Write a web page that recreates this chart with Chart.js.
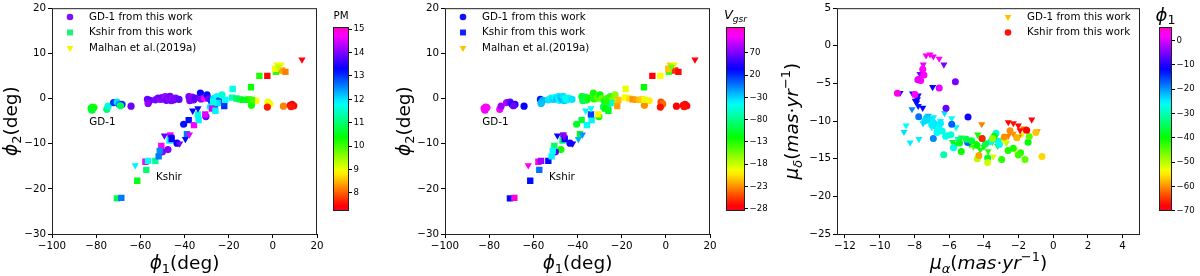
<!DOCTYPE html>
<html>
<head>
<meta charset="utf-8">
<script src="https://cdn.jsdelivr.net/npm/chart.js@4.4.1/dist/chart.umd.min.js"></script>
<style>
  body { margin: 0; background: #fff; width: 1200px; height: 276px; overflow: hidden; position: relative; }
  canvas { position: absolute; top: 0; }
</style>
</head>
<body>
<canvas id="p1" width="330" height="276" style="left:0px"></canvas>
<canvas id="c1" width="70" height="276" style="left:323px"></canvas>
<canvas id="p2" width="330" height="276" style="left:393px"></canvas>
<canvas id="c2" width="73" height="276" style="left:716px"></canvas>
<canvas id="p3" width="387" height="276" style="left:768px"></canvas>
<canvas id="c3" width="51" height="276" style="left:1149px"></canvas>
<script>
// GD-1 / Kshir in stream coords, coloured by PM (left) and Vgsr (middle)

// phi1, phi2, PM, Vgsr
const gd1Stars = [
  [-82.3, -2.2, 10.4, 112], [-81.6, -1.9, 10.5, 118], [-81.0, -2.0, 10.3, 110], [-81.9, -2.6, 10.6, 105],
  [-75.2, -2.4, 11.0, 108], [-74.6, -1.7, 11.6, 80], [-72.1, -0.9, 13.0, 85], [-70.5, -0.8, 12.0, 60],
  [-69.6, -1.3, 12.5, 40], [-68.3, -1.3, 13.0, 45], [-69.0, -1.6, 10.9, 65], [-64.2, -1.7, 13.9, 35],
  [-56.8, -0.2, 13.9, 25], [-56.2, -0.8, 14.0, -15], [-55.7, -0.4, 13.8, -20], [-56.5, -1.1, 14.1, -25],
  [-53.2, -0.3, 14.0, -35], [-52.0, 0.1, 13.9, -40], [-51.0, -0.2, 14.1, -30], [-50.2, 0.2, 13.9, -45],
  [-49.5, -0.1, 14.0, -25], [-48.8, 0.4, 14.2, -38], [-48.2, -0.4, 13.8, -42], [-47.6, 0.3, 14.0, -30],
  [-47.0, -0.2, 14.1, -20], [-46.5, 0.5, 13.9, -35], [-46.0, -0.5, 14.0, -28], [-45.4, 0.0, 14.2, -45],
  [-44.8, -0.3, 13.9, -40], [-44.0, 0.1, 14.0, -50], [-42.5, -0.2, 13.8, -35],
  [-38.0, 0.4, 14.0, -110], [-37.2, -0.1, 13.9, -120], [-36.5, 0.3, 14.1, -100], [-35.8, -0.3, 13.9, -115],
  [-37.6, -0.5, 14.0, -95], [-35.2, 0.1, 13.8, -125],
  [-32.8, 1.2, 13.3, -125], [-32.5, -0.1, 14.0, -130], [-30.9, 0.1, 14.7, -145], [-29.8, 0.8, 13.2, -120],
  [-29.1, 0.0, 13.9, -150], [-27.8, -0.6, 13.0, -100], [-26.8, 0.0, 12.0, -140], [-25.3, 0.4, 11.8, -135],
  [-24.5, -0.5, 12.8, -160], [-23.0, 0.8, 11.6, -160], [-26.3, -1.5, 12.9, -95], [-28.3, -1.9, 11.9, -85],
  [-30.3, -4.0, 13.9, -120], [-40.4, -5.7, 13.2, -110], [-43.4, -9.9, 13.3, 40], [-47.5, -11.3, 14.0, -125],
  [-50.0, -11.8, 14.0, 60],
  [-7.6, -0.5, 8.9, -200], [-9.7, -1.5, 10.3, -230], [-2.2, -0.8, 9.0, -250], [-1.4, -1.2, 9.0, -240],
  [-2.5, -1.9, 7.6, -268], [4.8, -1.7, 8.2, -272], [7.9, -1.5, 7.5, -275], [8.7, -1.3, 7.4, -270],
  [9.5, -1.6, 7.5, -278], [8.3, -1.8, 7.6, -268]
];

const kshirStars = [
  [-70.6, -22.1, 10.8, 30], [-68.6, -22.0, 12.6, 120], [-61.4, -18.2, 10.5, 30], [-57.3, -15.8, 11.0, 0],
  [-57.7, -14.0, 14.7, 115], [-56.5, -13.8, 11.8, 80], [-53.2, -13.8, 11.2, 30], [-51.7, -12.8, 12.6, -40],
  [-50.5, -10.5, 14.7, -90], [-51.2, -11.6, 12.5, -45], [-46.4, -8.2, 14.7, 75], [-46.8, -9.3, 11.8, -85],
  [-45.8, -9.0, 13.3, 35], [-38.9, -7.9, 12.6, -110], [-38.1, -4.8, 13.2, -105], [-35.7, -5.9, 14.7, -45],
  [-33.6, -4.8, 11.9, -40], [-33.9, -3.5, 11.7, 15], [-30.6, -3.5, 14.6, -200], [-27.5, -2.2, 14.5, -120],
  [-26.0, -2.7, 11.9, -110], [-22.0, -1.7, 13.0, -225], [-21.5, -0.3, 11.8, -215], [-25.0, -1.0, 12.0, -60],
  [-27.0, -0.8, 11.7, -130],
  [-18.2, 2.1, 11.7, -190], [-18.5, 0.2, 11.5, -195], [-16.5, 0.0, 11.0, -205], [-15.0, -0.2, 10.8, -230],
  [-13.5, -0.3, 10.5, -225], [-12.0, -0.3, 10.6, -215], [-10.7, -0.2, 10.3, -210], [-9.5, -0.3, 10.0, -190],
  [-9.9, 2.5, 10.3, -120], [-6.1, 5.0, 10.2, -275], [-2.5, 5.0, 7.5, -195], [1.4, 5.9, 10.1, -140],
  [1.1, 6.6, 9.0, -215], [4.2, 6.2, 8.4, -260], [5.7, 5.9, 8.2, -270]
];

const malhanStars = [
  [1.9, 7.5, 9.0, -210], [3.8, 7.5, 8.9, -200], [2.6, 7.0, 9.3, -150], [13.2, 8.6, 7.4, -275],
  [-62.3, -14.8, 11.9, 115], [-49.1, -8.2, 13.8, 40], [-42.2, -10.0, 14.0, 40], [-39.6, -9.0, 13.2, -20],
  [-37.8, -8.0, 14.6, -10], [-36.3, -2.7, 13.3, -40], [-33.9, -2.2, 13.2, -45], [-46.0, -8.5, 13.3, 70]
];

// right panel: pmra, pmdec, phi1
const gd1Pm = [
  [-7.33, -1.28, 2], [-7.10, -1.15, 3], [-6.91, -1.41, 1], [-6.57, -1.71, 2], [-7.49, -2.49, 1],
  [-6.30, -2.49, -5], [-7.68, -3.74, -5],
  [-6.95, -5.48, -12], [-8.83, -6.26, -11], [-8.10, -6.34, -12], [-7.78, -6.60, -11], [-7.83, -7.12, -12],
  [-7.87, -7.55, -12], [-7.78, -7.99, -13], [-7.52, -8.25, -12], [-7.95, -7.30, -11],
  [-8.14, -8.42, -19], [-6.26, -8.94, -24], [-5.85, -9.63, -26], [-8.48, -10.58, -26], [-8.60, -11.45, -24],
  [-8.25, -12.84, -25], [-7.74, -12.40, -25], [-5.60, -10.84, -26], [-7.20, -9.30, -22], [-6.90, -9.50, -25],
  [-7.50, -10.30, -24], [-6.50, -10.00, -26], [-7.00, -10.80, -26], [-6.70, -11.20, -27], [-6.00, -11.80, -28],
  [-5.50, -12.40, -30],
  [-5.80, -12.80, -38], [-5.30, -12.20, -36], [-5.00, -12.60, -40], [-4.80, -13.10, -41], [-4.50, -12.90, -43],
  [-4.35, -11.80, -40], [-4.00, -13.40, -39], [-3.75, -14.00, -42], [-3.50, -12.80, -45], [-4.60, -13.40, -44],
  [-5.60, -13.10, -40], [-3.20, -13.30, -37], [-4.20, -13.80, -41], [-3.00, -12.50, -48],
  [-3.45, -14.70, -52], [-2.70, -12.90, -50], [-2.20, -13.80, -52], [-1.80, -11.80, -52],
  [-4.12, -10.41, -61], [-2.30, -11.70, -60], [-2.00, -12.10, -62], [-0.92, -11.36, -60], [-2.60, -12.00, -61],
  [-1.70, -11.00, -62],
  [-2.59, -10.15, -68], [-2.30, -10.28, -67], [-2.01, -10.58, -68], [-1.24, -9.81, -69], [-1.91, -11.23, -67]
];

const kshirPm = [
  [-7.52, -3.10, 2], [-7.45, -3.87, 2], [-7.72, -4.44, 3], [-7.64, -4.61, 2], [-7.80, -4.50, 1],
  [-6.57, -5.61, 1], [-8.98, -6.30, 3], [-7.97, -6.47, 2],
  [-5.64, -4.78, -5], [-6.18, -8.29, -6], [-4.91, -9.46, -11], [-4.93, -12.84, -17],
  [-7.75, -9.42, -18], [-6.91, -12.32, -19], [-5.85, -10.41, -17],
  [-7.30, -9.60, -23], [-7.10, -9.90, -24], [-6.90, -10.20, -25], [-6.80, -10.60, -24], [-6.60, -10.90, -26],
  [-7.00, -10.50, -25], [-6.70, -11.50, -26], [-6.40, -11.30, -27], [-6.20, -12.00, -27], [-7.40, -10.00, -24],
  [-6.50, -10.30, -25], [-5.90, -11.80, -28], [-5.75, -13.55, -27], [-6.31, -14.48, -30], [-3.16, -12.70, -25],
  [-3.10, -13.10, -26], [-3.30, -11.60, -27], [-3.60, -12.70, -27],
  [-5.30, -14.05, -40], [-3.78, -14.90, -38], [-2.97, -15.10, -42], [-2.30, -13.60, -41], [-1.88, -14.20, -42],
  [-2.01, -14.50, -43], [-1.63, -15.10, -45], [-1.45, -12.80, -40], [-1.38, -12.06, -45], [-5.00, -12.40, -36],
  [-4.40, -13.20, -40], [-4.10, -12.30, -38], [-3.90, -13.00, -36], [-2.60, -13.90, -41], [-3.40, -12.00, -40],
  [-5.40, -12.90, -38], [-4.70, -12.60, -37],
  [-4.37, -15.00, -50], [-3.78, -15.50, -51], [-2.80, -12.50, -52], [-3.50, -12.30, -48],
  [-2.49, -11.28, -60], [-1.00, -11.50, -57], [-2.82, -12.10, -60], [-0.65, -14.70, -56], [-4.28, -14.57, -59],
  [-2.10, -12.20, -58],
  [-1.53, -11.23, -68], [-4.10, -12.30, -66]
];

const phiXTicks = [-100, -80, -60, -40, -20, 0, 20];
const phiYTicks = [20, 10, 0, -10, -20, -30];
const pmraTicks = [-12, -10, -8, -6, -4, -2, 0, 2, 4];
const pmdecTicks = [5, 0, -5, -10, -15, -20, -25];
const pmBarTicks = [8, 9, 10, 11, 12, 13, 14, 15];
const vgsrBarTicks = [70, 20, -30, -80, -130, -180, -230, -280];
const phiBarTicks = [0, -10, -20, -30, -40, -50, -60, -70];
const pmRange = [7.23, 15.09];
const vgsrRange = [-285, 128];
const phiRange = [-70.1, 5.6];

// matplotlib gist_rainbow
const rainbow = [
  [0.000, 255, 0, 41], [0.030, 255, 0, 0], [0.215, 255, 255, 0], [0.400, 0, 255, 0],
  [0.586, 0, 255, 255], [0.770, 0, 0, 255], [0.954, 255, 0, 255], [1.000, 255, 0, 191]
];
function cmap(t) {
  t = Math.max(0, Math.min(1, t));
  for (let i = 1; i < rainbow.length; i++) {
    if (t <= rainbow[i][0]) {
      const a = rainbow[i - 1], b = rainbow[i];
      const f = (t - a[0]) / (b[0] - a[0]);
      const c = [1, 2, 3].map(k => Math.round(a[k] + (b[k] - a[k]) * f));
      return `rgb(${c[0]},${c[1]},${c[2]})`;
    }
  }
  return 'rgb(255,0,191)';
}
const colorOf = (v, r) => cmap((v - r[0]) / (r[1] - r[0]));
const minus = v => String(v).replace('-', '\u2212');
const FONT = '"DejaVu Sans", sans-serif';

function drawRich(ctx, parts, x, y, size, rot, align) {
  ctx.save();
  ctx.translate(x, y);
  if (rot) ctx.rotate(rot);
  const fontOf = p => (p.it ? 'italic ' : '') + ((p.sub || p.sup) ? size * 0.7 : size) + 'px ' + FONT;
  let w = 0;
  const ws = parts.map(p => { ctx.font = fontOf(p); const m = ctx.measureText(p.t).width; w += m; return m; });
  let cx = align === 'left' ? 0 : -w / 2;
  ctx.fillStyle = '#000';
  ctx.textBaseline = 'middle';
  ctx.textAlign = 'left';
  parts.forEach((p, i) => {
    ctx.font = fontOf(p);
    const dy = p.sub ? size * 0.28 : p.sup ? -size * 0.32 : 0;
    ctx.fillText(p.t, cx, dy);
    cx += ws[i];
  });
  ctx.restore();
}

function axis(pos, min, max, ticks, size) {
  return {
    type: 'linear', position: pos, min: min, max: max,
    afterBuildTicks: s => { s.ticks = ticks.map(v => ({ value: v })); },
    afterFit: s => { if (pos === 'bottom') s.height = size; else s.width = size; },
    grid: { drawOnChartArea: false, tickLength: 4, color: '#000', tickWidth: 1 },
    border: { display: false },
    ticks: { font: { family: FONT, size: 10.3 }, color: '#000', padding: 2, autoSkip: false, maxRotation: 0,
      callback: v => minus(v) }
  };
}

function ds(rows, xi, yi, ci, range, style, r) {
  return {
    data: rows.map(row => ({ x: row[xi], y: row[yi] })),
    pointStyle: style === 'v' ? 'triangle' : style,
    rotation: style === 'v' ? 180 : 0,
    pointRadius: r,
    pointBorderWidth: 0,
    pointBackgroundColor: rows.map(row => colorOf(row[ci], range)),
    showLine: false
  };
}

function decor(cfg) {
  return {
    id: 'decor',
    beforeDraw(chart) {
      if (cfg.white) {
        const c = chart.ctx;
        c.save(); c.fillStyle = '#fff'; c.fillRect(0, 0, chart.width, chart.height); c.restore();
      }
    },
    afterDraw(chart) {
      const c = chart.ctx, a = chart.chartArea;
      c.save();
      c.strokeStyle = '#222';
      c.lineWidth = 1;
      c.strokeRect(a.left + 0.5, a.top + 0.5, a.right - a.left - 1, a.bottom - a.top);
      // legend
      cfg.legend.forEach((e, i) => {
        const y = cfg.legY + i * 15.5;
        c.fillStyle = e.color;
        Chart.helpers.drawPoint(c, { pointStyle: e.style === 'v' ? 'triangle' : e.style,
          rotation: e.style === 'v' ? 180 : 0, radius: e.r, borderWidth: 0 }, cfg.legX, y);
        c.fillStyle = '#000';
        c.font = '10.3px ' + FONT;
        c.textBaseline = 'middle';
        c.textAlign = 'left';
        c.fillText(e.text, cfg.legX + 19, y);
      });
      // in-plot labels
      (cfg.notes || []).forEach(n => {
        c.fillStyle = '#000';
        c.font = '10.3px ' + FONT;
        c.textBaseline = 'middle';
        c.textAlign = 'left';
        c.fillText(n.t, chart.scales.x.getPixelForValue(n.x), chart.scales.y.getPixelForValue(n.y));
      });
      c.restore();
      drawRich(c, cfg.xlabel, (a.left + a.right) / 2, 264, 18.5, 0);
      drawRich(c, cfg.ylabel, cfg.ylabX, (a.top + a.bottom) / 2, 18.5, -Math.PI / 2);
    }
  };
}

const common = { responsive: false, animation: false, devicePixelRatio: 1,
  plugins: { legend: { display: false }, tooltip: { enabled: false } } };

const phiX = [{ t: '\u03d5', it: true }, { t: '1', sub: true }, { t: '(deg)' }];
const phiY = [{ t: '\u03d5', it: true }, { t: '2', sub: true }, { t: '(deg)' }];
const notes = [{ t: 'GD-1', x: -83.1, y: -5.3 }, { t: 'Kshir', x: -52.9, y: -17.4 }];

function streamPanel(id, ci, range, legCols) {
  new Chart(document.getElementById(id), {
    type: 'scatter',
    data: { datasets: [
      ds(malhanStars, 0, 1, ci, range, 'v', 4.2),
      ds(kshirStars, 0, 1, ci, range, 'rect', 4.5),
      ds(gd1Stars, 0, 1, ci, range, 'circle', 3.6)
    ] },
    options: Object.assign({}, common, {
      layout: { padding: { top: 3, right: 13, left: 0, bottom: 0 } },
      scales: { x: axis('bottom', -100, 20, phiXTicks, 42), y: axis('left', -30, 20, phiYTicks, 52) }
    }),
    plugins: [decor({
      legX: 70, legY: 17, notes: notes, xlabel: phiX, ylabel: phiY, ylabX: 12,
      legend: [
        { style: 'circle', r: 3.3, color: legCols[0], text: 'GD-1 from this work' },
        { style: 'rect', r: 4.2, color: legCols[1], text: 'Kshir from this work' },
        { style: 'v', r: 4, color: legCols[2], text: 'Malhan et al.(2019a)' }
      ]
    })]
  });
}

streamPanel('p1', 2, pmRange, ['#7f10ff', '#20f07a', '#f4f400']);
streamPanel('p2', 3, vgsrRange, ['#1010ff', '#1020ff', '#ffc400']);

new Chart(document.getElementById('p3'), {
  type: 'scatter',
  data: { datasets: [
    ds(kshirPm, 0, 1, 2, phiRange, 'circle', 3.5),
    ds(gd1Pm, 0, 1, 2, phiRange, 'v', 4.1)
  ] },
  options: Object.assign({}, common, {
    layout: { padding: { top: 3, right: 15, left: 0, bottom: 0 } },
    scales: { x: axis('bottom', -12.46, 5, pmraTicks, 42), y: axis('left', -25, 5, pmdecTicks, 69) }
  }),
  plugins: [decor({
    white: true, legX: 240, legY: 17, ylabX: 25,
    xlabel: [{ t: '\u03bc', it: true }, { t: '\u03b1', it: true, sub: true }, { t: '(' },
      { t: 'mas', it: true }, { t: '\u00b7' }, { t: 'yr', it: true }, { t: '\u22121', sup: true }, { t: ')' }],
    ylabel: [{ t: '\u03bc', it: true }, { t: '\u03b4', it: true, sub: true }, { t: '(' },
      { t: 'mas', it: true }, { t: '\u00b7' }, { t: 'yr', it: true }, { t: '\u22121', sup: true }, { t: ')' }],
    legend: [
      { style: 'v', r: 4, color: '#ffc400', text: 'GD-1 from this work' },
      { style: 'circle', r: 3.3, color: '#ff1010', text: 'Kshir from this work' }
    ]
  })]
});

function colorbar(id, range, ticks, barW, title, titleSize) {
  const el = document.getElementById(id);
  const yAxis = axis('right', range[0], range[1], ticks, el.width - 10 - barW);
  yAxis.grid.tickLength = 3;
  yAxis.ticks.padding = 1.5;
  yAxis.ticks.font = { family: FONT, size: 8.6 };
  new Chart(el, {
    type: 'scatter',
    data: { datasets: [] },
    options: Object.assign({}, common, {
      layout: { padding: { top: 27, bottom: 65, left: 10, right: 0 } },
      scales: { x: { display: false }, y: yAxis }
    }),
    plugins: [{
      id: 'bar',
      beforeDatasetsDraw(chart) {
        const c = chart.ctx, a = chart.chartArea;
        const g = c.createLinearGradient(0, a.bottom, 0, a.top);
        for (let i = 0; i <= 40; i++) g.addColorStop(i / 40, cmap(i / 40));
        c.save();
        c.fillStyle = g;
        c.fillRect(a.left, a.top, a.right - a.left, a.bottom - a.top);
        c.strokeStyle = '#222';
        c.lineWidth = 1;
        c.strokeRect(a.left + 0.5, a.top + 0.5, a.right - a.left - 1, a.bottom - a.top - 1);
        c.restore();
        drawRich(c, title, (a.left + a.right) / 2, 16, titleSize, 0);
      }
    }]
  });
}

colorbar('c1', pmRange, pmBarTicks, 16, [{ t: 'PM' }], 10.3);
colorbar('c2', vgsrRange, vgsrBarTicks, 19, [{ t: 'V', it: true }, { t: 'gsr', it: true, sub: true }], 13);
colorbar('c3', phiRange, phiBarTicks, 13, [{ t: '\u03d5', it: true }, { t: '1', sub: true }], 18);
</script>
</body>
</html>
